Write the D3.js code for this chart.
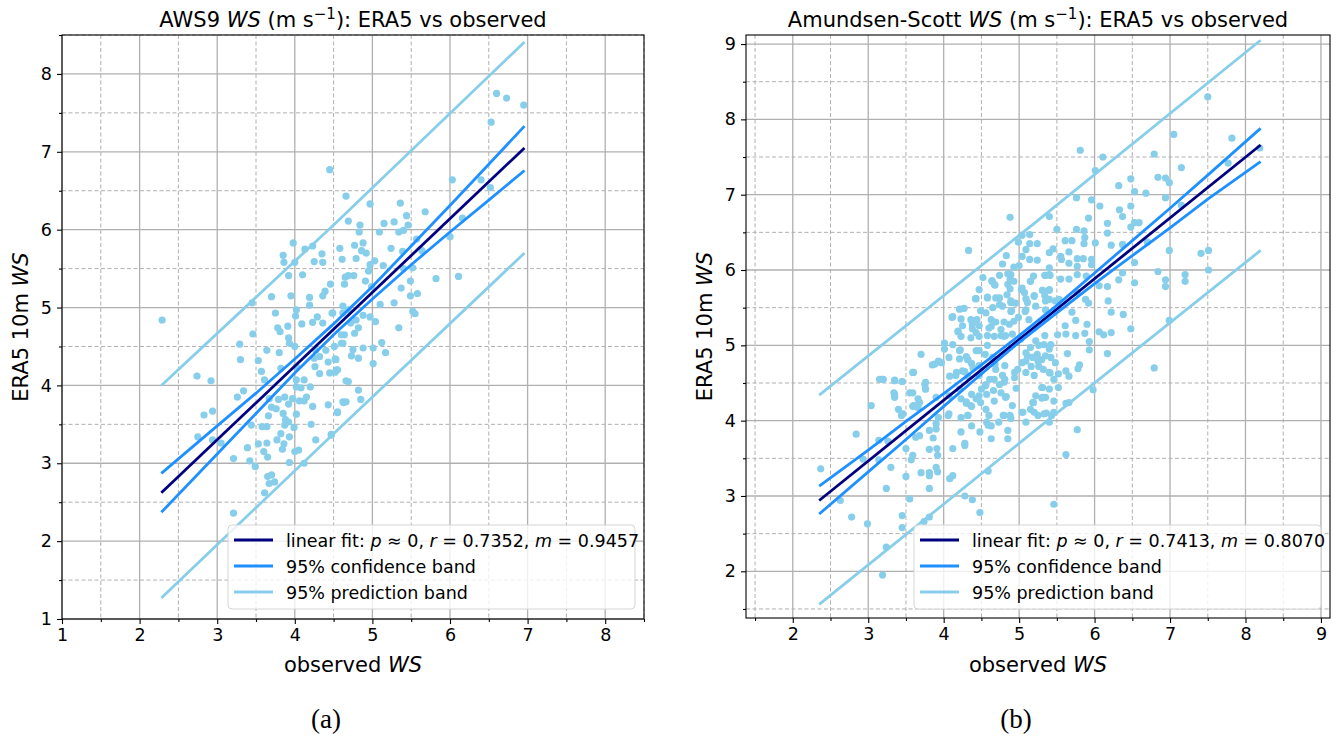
<!DOCTYPE html>
<html>
<head>
<meta charset="utf-8">
<script src="https://cdn.jsdelivr.net/npm/d3@7/dist/d3.min.js"></script>
<style>
body { margin: 0; background: #fff; }
text { font-family: "DejaVu Sans", sans-serif; fill: #000; }
</style>
</head>
<body>
<svg id="chart" width="1338" height="740"></svg>
<script>
/////////////////// AWS9 data //////////////////
var aws9Points = [
[2.29,4.84],[4.45,6.77],[4.66,6.43],[4.69,6.11],[3.98,5.83],[4.13,5.75],[4.23,5.79],[3.85,5.67],[3.86,5.58],[4.00,5.58],
[4.35,5.69],[4.36,5.58],[4.25,5.59],[4.58,5.76],[4.61,5.62],[3.92,5.41],[4.10,5.42],[4.65,5.39],[4.64,5.30],[4.46,5.30],
[4.39,5.21],[4.36,5.15],[3.70,5.14],[3.95,5.15],[4.19,5.13],[4.19,5.03],[3.45,5.06],[3.75,4.93],[4.01,4.89],[4.02,4.97],
[4.29,4.88],[4.09,4.79],[4.23,4.81],[4.36,4.80],[4.48,4.93],[4.62,4.93],[3.78,4.74],[3.81,4.69],[3.91,4.76],[3.92,4.61],
[3.46,4.66],[3.93,4.54],[4.00,4.50],[3.29,4.53],[3.64,4.45],[3.80,4.42],[4.27,4.45],[4.40,4.45],[4.51,4.50],[4.62,4.54],
[3.30,4.33],[3.53,4.32],[4.25,4.35],[4.32,4.37],[4.43,4.30],[4.53,4.33],[3.57,4.18],[3.82,4.22],[4.02,4.24],[4.26,4.24],
[4.32,4.15],[4.45,4.16],[4.55,4.20],[3.61,4.07],[4.02,4.07],[4.12,4.07],[2.74,4.12],[2.92,4.06],[3.34,3.93],[3.26,3.85],
[4.02,3.98],[4.08,3.97],[4.20,3.98],[4.66,4.06],[3.67,3.83],[3.79,3.82],[3.87,3.85],[3.97,3.83],[4.06,3.80],[4.15,3.85],
[4.12,3.80],[3.70,3.72],[3.76,3.70],[3.92,3.76],[4.23,3.73],[4.43,3.75],[4.63,3.78],[2.94,3.67],[2.83,3.62],[3.66,3.61],
[3.85,3.64],[4.02,3.63],[4.55,3.65],[3.88,3.56],[3.92,3.53],[3.44,3.49],[3.58,3.47],[3.64,3.47],[3.87,3.49],[3.99,3.46],
[4.21,3.50],[3.82,3.38],[3.93,3.34],[2.75,3.34],[2.94,3.30],[3.05,3.26],[3.77,3.30],[3.86,3.25],[3.53,3.25],[3.64,3.26],
[4.27,3.30],[4.47,3.37],[3.39,3.20],[3.60,3.15],[3.84,3.18],[4.00,3.15],[4.05,3.17],[3.65,3.08],[3.21,3.06],[3.42,3.03],
[3.49,2.96],[3.93,3.01],[4.12,3.00],[3.65,2.83],[3.70,2.85],[3.74,2.76],[3.67,2.74],[3.61,2.62],[3.21,2.36],
[6.60,7.75],[6.73,7.69],[6.95,7.60],[6.53,7.38],[4.97,6.33],[5.36,6.34],[6.03,6.64],[6.40,6.64],[6.52,6.54],[5.68,6.23],
[5.44,6.18],[4.84,6.06],[4.83,5.97],[5.15,6.08],[5.28,6.10],[5.09,5.97],[5.34,5.97],[5.40,5.99],[5.46,6.06],[6.16,6.15],
[6.00,5.91],[5.57,5.88],[4.77,5.80],[4.88,5.83],[4.86,5.73],[4.92,5.70],[5.24,5.76],[5.39,5.72],[5.64,5.73],[4.79,5.63],
[4.97,5.55],[5.03,5.60],[5.14,5.54],[4.95,5.47],[5.40,5.50],[5.52,5.51],[4.69,5.41],[4.76,5.41],[4.91,5.34],[5.37,5.25],
[5.49,5.34],[5.82,5.37],[6.11,5.40],[5.58,5.18],[5.49,5.15],[4.99,5.27],[5.10,5.04],[5.28,5.06],[5.52,4.95],[5.55,4.92],
[4.49,4.93],[4.62,5.02],[4.69,4.97],[4.72,4.80],[4.79,4.84],[4.88,4.90],[4.97,4.88],[5.04,4.82],[4.82,4.74],[4.77,4.67],
[5.34,4.74],[4.60,4.65],[4.64,4.65],[4.60,4.54],[5.12,4.55],[5.01,4.48],[5.17,4.42],[4.88,4.48],[4.75,4.46],[4.73,4.38],
[4.82,4.35],[4.52,4.34],[5.01,4.28],[4.54,4.20],[4.52,4.17],[4.69,4.05],[4.82,3.94],[4.85,3.82],[4.62,3.79],[4.66,3.79],
[4.55,3.66],[4.47,3.36]
];
var aws9FitX = [2.28, 6.96];
var aws9FitY = [2.62, 7.05];
var aws9BandX = [2.28, 3.0, 3.5, 4.0, 4.5, 5.0, 5.5, 6.0, 6.5, 6.96];
var aws9ConfUp = [2.87, 3.48, 3.90, 4.34, 4.79, 5.27, 5.79, 6.31, 6.84, 7.33];
var aws9ConfLo = [2.37, 3.12, 3.64, 4.16, 4.65, 5.11, 5.55, 5.97, 6.38, 6.76];
var aws9PredX = [2.28, 4.5, 6.96];
var aws9PredUp = [4.00, 6.06, 8.41];
var aws9PredLo = [1.27, 3.38, 5.70];

/////////////////// Amundsen-Scott data //////////////////
var spPoints = [
[2.37,3.36],[3.70,4.88],[4.01,5.03],[3.88,4.75],[3.93,4.79],[3.97,4.77],[4.22,4.94],[4.21,4.82],[4.32,4.81],[4.37,4.76],
[4.12,5.01],[4.17,4.64],[4.28,4.65],[4.39,4.70],[4.47,4.60],[4.08,4.59],[3.60,4.64],[3.15,4.55],[3.20,4.55],[3.35,4.53],
[3.45,4.52],[3.76,4.51],[3.76,4.42],[3.55,4.37],[3.34,4.37],[3.35,4.33],[3.66,4.29],[3.90,4.31],[4.23,4.29],[4.37,4.35],
[4.43,4.29],[4.30,4.23],[4.37,4.19],[3.59,4.19],[3.66,4.17],[3.04,4.20],[3.40,4.15],[3.46,4.09],[3.93,4.04],[4.06,4.07],
[4.23,4.04],[4.32,4.07],[4.37,3.93],[4.23,3.85],[4.48,3.85],[4.59,3.94],[4.63,3.76],[3.90,3.89],[3.81,3.87],[3.68,3.80],
[3.63,3.78],[3.86,3.77],[4.28,3.70],[4.28,3.67],[4.12,3.63],[2.84,3.82],[3.14,3.74],[3.26,3.73],[3.50,3.63],[3.81,3.62],
[3.91,3.63],[3.92,3.54],[3.59,3.54],[3.57,3.48],[2.93,3.49],[3.14,3.48],[3.30,3.38],[3.90,3.38],[3.92,3.32],[3.81,3.31],
[3.70,3.31],[3.81,3.27],[3.50,3.26],[4.08,3.23],[4.12,3.27],[4.59,3.33],[3.24,3.10],[3.81,3.10],[2.63,2.94],[3.55,2.96],
[4.28,3.00],[4.38,2.95],[4.48,2.78],[2.78,2.72],[2.99,2.63],[3.45,2.74],[3.45,2.58],[3.81,2.72],[3.74,2.66],[3.24,2.32],
[3.19,1.95],[4.63,2.37],
[7.50,8.30],[7.82,7.75],[7.05,7.80],[7.77,7.42],[8.19,7.62],[5.81,7.59],[6.11,7.50],[6.79,7.54],[6.01,7.32],[7.15,7.36],
[6.84,7.23],[6.94,7.22],[6.99,7.16],[6.48,7.21],[6.32,7.12],[6.53,7.04],[6.68,7.02],[5.76,6.96],[5.96,6.93],[6.07,6.85],
[6.94,6.96],[7.15,6.86],[6.48,6.85],[6.33,6.80],[6.37,6.71],[5.92,6.69],[5.40,6.71],[4.88,6.70],[6.17,6.62],[6.53,6.63],
[6.59,6.63],[6.48,6.57],[5.50,6.54],[5.76,6.54],[5.86,6.52],[6.17,6.49],[5.04,6.46],[5.14,6.47],[5.61,6.39],[5.70,6.39],
[5.87,6.43],[5.86,6.35],[6.01,6.36],[4.99,6.37],[5.14,6.35],[5.24,6.35],[6.22,6.33],[6.37,6.34],[6.70,6.37],[4.33,6.26],
[5.09,6.27],[5.40,6.23],[5.45,6.28],[5.55,6.18],[5.66,6.24],[5.77,6.15],[5.85,6.15],[5.96,6.14],[5.96,6.07],[4.83,6.19],
[5.04,6.18],[5.14,6.14],[5.24,6.13],[5.56,6.14],[5.66,6.09],[5.77,6.05],[4.78,6.08],[4.93,6.04],[5.00,6.06],[5.40,6.03],
[6.99,6.26],[7.41,6.22],[7.51,6.26],[6.53,6.10],[6.84,5.98],[7.20,5.94],[7.51,6.00],[7.20,5.85],[6.94,5.87],[6.94,5.78],
[6.37,5.96],[6.32,5.87],[6.53,5.83],[6.17,5.78],[6.06,5.79],[4.52,5.90],[4.47,5.74],[4.64,5.86],[4.68,5.80],[4.88,5.88],
[5.15,5.85],[5.34,5.93],[5.40,5.94],[5.55,5.88],[5.66,5.88],[5.77,5.94],[5.89,5.92],[4.88,5.75],[5.03,5.74],[5.31,5.73],
[5.40,5.74],[5.20,5.66],[5.34,5.66],[5.40,5.61],[4.43,5.62],[4.58,5.63],[4.74,5.63],[4.89,5.57],[5.11,5.57],[5.53,5.61],
[5.77,5.70],[5.88,5.61],[5.92,5.56],[6.18,5.59],[6.22,5.44],[6.38,5.41],[6.48,5.22],[6.99,5.33],[4.27,5.49],[4.49,5.46],
[4.65,5.50],[4.78,5.52],[4.90,5.46],[5.09,5.47],[5.35,5.47],[5.70,5.44],[5.75,5.33],[5.90,5.28],[5.75,5.13],[5.87,5.16],
[6.06,5.18],[6.12,5.14],[6.22,5.17],[5.93,5.05],[5.93,4.94],[6.17,4.89],[5.61,5.26],[5.62,5.15],[5.51,5.14],[5.34,5.13],
[4.99,5.37],[4.87,5.28],[4.63,5.25],[4.38,5.28],[4.25,5.26],[4.43,5.17],[4.76,5.13],[4.82,5.13],[5.15,4.97],[5.26,5.00],
[5.40,4.95],[5.11,4.86],[5.64,4.89],[4.47,4.93],[4.30,4.85],[4.58,5.00],
[6.79,4.70],[5.77,3.88],[5.62,3.55],[5.46,2.89],[5.98,4.41],[5.66,4.24],[5.62,4.23],[5.52,4.44],[5.30,4.44],[5.35,4.31],
[5.30,4.30],[5.19,4.24],[5.15,4.15],[5.05,4.11],[5.25,4.07],[5.36,4.10],[5.43,4.07],[4.89,4.03],[4.79,4.07],[4.85,3.87],
[4.85,3.76],[4.63,3.93],[4.57,3.98],[5.66,4.59],[5.62,4.66],[5.80,4.74],[5.78,4.69],[5.52,4.62],[4.94,4.57],[4.96,4.43],
[4.83,4.32],[4.57,4.35],[4.66,4.40],[4.74,4.48],[4.81,4.55],[4.61,4.55],[4.55,4.46],[4.50,4.42],[5.41,4.63],[5.32,4.68],
[5.16,4.72],[5.04,4.77],[4.94,4.64],[4.81,4.73],[4.68,4.75],[5.30,4.81],[5.25,4.79],
[4.12,5.38],[4.23,5.35],[4.19,5.19],
[4.74,5.93],[4.85,5.95],[4.89,5.94],[5.19,5.92],[5.35,5.93],[5.41,5.93],[4.64,5.85],[4.67,5.81],[4.93,5.85],[4.85,5.81],
[5.15,5.85],[5.04,5.76],[5.31,5.73],[5.40,5.73],[4.58,5.64],[4.42,5.62],[4.69,5.63],[4.74,5.54],[4.84,5.67],[4.89,5.59],
[4.95,5.56],[5.07,5.70],[5.09,5.62],[5.20,5.65],[5.35,5.59],[5.48,5.59],[4.89,5.45],[5.08,5.45],[5.22,5.52],[4.21,5.48],
[4.11,5.37],[4.36,5.34],[4.44,5.34],[4.56,5.43],[4.63,5.34],[4.69,5.31],[4.80,5.31],[4.93,5.32],[5.13,5.34],[4.47,5.26],
[4.38,5.22],[4.60,5.23],[4.76,5.21],[4.19,5.18],[4.23,5.12],[4.36,5.10],[4.47,5.12],[4.58,5.13],[4.67,5.12],[4.80,5.12],
[4.91,5.15],[5.02,5.08],[5.22,5.06],[5.33,5.01],[5.42,5.01],[4.01,4.95],[4.07,4.84],[3.94,4.78],[4.21,4.93],[4.32,4.81],
[4.43,4.93],[4.55,4.88],[4.65,4.84],[4.47,4.73],[4.25,4.66],[4.16,4.60],[4.32,4.59],[5.09,4.90],[5.18,4.84],[5.24,4.88],
[5.35,4.86],[5.09,4.79],[5.26,4.72],[5.42,4.84],[5.48,4.77],[4.98,4.68],[5.09,4.64],[5.20,4.60],[5.40,4.64],[5.46,4.55],
[4.69,4.68],[4.78,4.60],[4.80,4.51],[4.67,4.55],[4.56,4.48],[3.59,4.64],[3.85,4.74],[3.18,4.55],[3.35,4.54],[3.45,4.52],
[3.75,4.48],[3.76,4.42],[3.35,4.35],[3.35,4.31],[3.59,4.37],[3.60,4.20],[3.68,4.24],[4.07,4.33],[4.07,4.09],[4.21,4.42],
[4.30,4.25],[4.36,4.20],[4.32,4.07],[4.47,4.33],[4.49,4.24],[4.56,4.15],[4.60,4.07],[4.67,4.26],[4.76,4.37],[4.82,4.31],
[4.91,4.20],[4.80,4.07],[4.73,3.98],[4.88,4.07],[5.04,4.11],[5.18,4.24],[5.22,4.33],[5.31,4.44],[5.31,4.31],[5.40,4.42],
[5.46,4.26],[5.20,4.11],[5.33,4.09],[5.46,4.11],[5.09,3.98],[5.40,3.98],[3.44,4.07],[3.90,3.96],[3.63,4.20]
];
var spFitX = [2.35, 8.2];
var spFitY = [2.94, 7.66];
var spBandX = [2.35, 3.0, 3.5, 4.0, 4.5, 5.0, 5.5, 6.0, 6.5, 7.0, 7.5, 8.2];
var spConfUp = [3.13, 3.61, 3.99, 4.36, 4.74, 5.13, 5.53, 5.96, 6.39, 6.82, 7.26, 7.88];
var spConfLo = [2.76, 3.32, 3.75, 4.19, 4.62, 5.04, 5.43, 5.82, 6.19, 6.56, 6.94, 7.44];
var spPredX = [2.35, 5.2, 8.2];
var spPredUp = [4.34, 6.62, 9.05];
var spPredLo = [1.56, 3.86, 6.26];

var aws9Major = [1, 2, 3, 4, 5, 6, 7, 8];
var aws9Minor = [1.5, 2.5, 3.5, 4.5, 5.5, 6.5, 7.5, 8.5];
var spMajor = [2, 3, 4, 5, 6, 7, 8, 9];
var spMinor = [1.5, 2.5, 3.5, 4.5, 5.5, 6.5, 7.5, 8.5];

var legendLabels = ["linear fit", "95% confidence band", "95% prediction band"];
var legendColors = ["#000080", "#1e90ff", "#87ceeb"];

var svg = d3.select("#chart");

function drawPanel(p) {
    var x = d3.scaleLinear().domain(p.domain).range([p.left, p.left + p.width]),
        y = d3.scaleLinear().domain(p.domain).range([p.top + p.height, p.top]);

    var g = svg.append("g");

    // grid, minor dashed first
    g.selectAll(".minorV").data(p.minor).enter().append("line")
        .attr("x1", function(d) { return x(d); }).attr("x2", function(d) { return x(d); })
        .attr("y1", p.top).attr("y2", p.top + p.height)
        .attr("stroke", "#b0b0b0").attr("stroke-width", 1).attr("stroke-dasharray", "4,2.5");
    g.selectAll(".minorH").data(p.minor).enter().append("line")
        .attr("y1", function(d) { return y(d); }).attr("y2", function(d) { return y(d); })
        .attr("x1", p.left).attr("x2", p.left + p.width)
        .attr("stroke", "#b0b0b0").attr("stroke-width", 1).attr("stroke-dasharray", "4,2.5");
    g.selectAll(".majorV").data(p.major).enter().append("line")
        .attr("x1", function(d) { return x(d); }).attr("x2", function(d) { return x(d); })
        .attr("y1", p.top).attr("y2", p.top + p.height)
        .attr("stroke", "#b0b0b0").attr("stroke-width", 1.3);
    g.selectAll(".majorH").data(p.major).enter().append("line")
        .attr("y1", function(d) { return y(d); }).attr("y2", function(d) { return y(d); })
        .attr("x1", p.left).attr("x2", p.left + p.width)
        .attr("stroke", "#b0b0b0").attr("stroke-width", 1.3);

    // scatter
    g.selectAll(".pt").data(p.points).enter().append("circle")
        .attr("cx", function(d) { return x(d[0]); })
        .attr("cy", function(d) { return y(d[1]); })
        .attr("r", 3.6)
        .attr("fill", "#87ceeb");

    var line = d3.line()
        .x(function(d) { return x(d[0]); })
        .y(function(d) { return y(d[1]); });

    function drawLine(xs, ys, color) {
        g.append("path")
            .datum(xs.map(function(v, i) { return [v, ys[i]]; }))
            .attr("fill", "none")
            .attr("stroke", color)
            .attr("stroke-width", 2.8)
            .attr("d", line);
    }

    drawLine(p.fitX, p.fitY, legendColors[0]);
    drawLine(p.bandX, p.confUp, legendColors[1]);
    drawLine(p.bandX, p.confLo, legendColors[1]);
    drawLine(p.predX, p.predUp, legendColors[2]);
    drawLine(p.predX, p.predLo, legendColors[2]);

    // frame
    g.append("rect")
        .attr("x", p.left).attr("y", p.top)
        .attr("width", p.width).attr("height", p.height)
        .attr("fill", "none").attr("stroke", "#000").attr("stroke-width", 1.1);

    // axes
    g.append("g")
        .attr("transform", "translate(0," + (p.top + p.height) + ")")
        .call(d3.axisBottom(x).tickValues(p.major).tickSize(5).tickPadding(5).tickFormat(d3.format("d")));
    g.append("g")
        .attr("transform", "translate(0," + (p.top + p.height) + ")")
        .call(d3.axisBottom(x).tickValues(p.minor).tickSize(3).tickFormat(""));
    g.append("g")
        .attr("transform", "translate(" + p.left + ",0)")
        .call(d3.axisLeft(y).tickValues(p.major).tickSize(5).tickPadding(5).tickFormat(d3.format("d")));
    g.append("g")
        .attr("transform", "translate(" + p.left + ",0)")
        .call(d3.axisLeft(y).tickValues(p.minor).tickSize(3).tickFormat(""));
    g.selectAll(".domain").remove();
    g.selectAll(".tick line").attr("stroke", "#000").attr("stroke-width", 1.1);
    g.selectAll(".tick text")
        .style("font-family", "DejaVu Sans")
        .style("font-size", "17.5px")
        .attr("fill", "#000");

    // title
    var cx = p.left + p.width / 2;
    var title = g.append("text")
        .attr("x", cx).attr("y", 27)
        .attr("text-anchor", "middle")
        .style("font-size", "21px");
    title.append("tspan").text(p.name + " ");
    title.append("tspan").style("font-style", "italic").text("WS");
    title.append("tspan").text(" (m s");
    title.append("tspan").attr("dy", -8).style("font-size", "15px").text("\u22121");
    title.append("tspan").attr("dy", 8).text("): ERA5 vs observed");

    // axis labels
    var xl = g.append("text")
        .attr("x", cx).attr("y", 672)
        .attr("text-anchor", "middle")
        .style("font-size", "21px");
    xl.append("tspan").text("observed ");
    xl.append("tspan").style("font-style", "italic").text("WS");

    var yl = g.append("text")
        .attr("transform", "translate(" + (p.left - 34) + "," + (p.top + p.height / 2) + ") rotate(-90)")
        .attr("text-anchor", "middle")
        .style("font-size", "21px");
    yl.append("tspan").text("ERA5 10m ");
    yl.append("tspan").style("font-style", "italic").text("WS");

    /////////////////// legend //////////////////
    var lx = p.left + p.width - 9 - 407,
        ly = 525;
    g.append("rect")
        .attr("x", lx).attr("y", ly)
        .attr("width", 407).attr("height", 84)
        .attr("rx", 4)
        .attr("fill", "#fff").attr("fill-opacity", 0.8)
        .attr("stroke", "#d5d5d5").attr("stroke-width", 1);

    legendLabels.forEach(function(lab, i) {
        var yy = ly + 15 + i * 26;
        g.append("line")
            .attr("x1", lx + 6).attr("x2", lx + 45)
            .attr("y1", yy).attr("y2", yy)
            .attr("stroke", legendColors[i]).attr("stroke-width", 2.8);
        var t = g.append("text")
            .attr("x", lx + 58).attr("y", yy + 6.5)
            .style("font-size", "17.5px");
        if (i == 0) {
            t.append("tspan").text("linear fit: ");
            t.append("tspan").style("font-style", "italic").text("p");
            t.append("tspan").text(" \u2248 0, ");
            t.append("tspan").style("font-style", "italic").text("r");
            t.append("tspan").text(" = " + p.r + ", ");
            t.append("tspan").style("font-style", "italic").text("m");
            t.append("tspan").text(" = " + p.m);
        } else {
            t.text(lab);
        }
    });

    // caption
    svg.append("text")
        .attr("x", p.captionX).attr("y", 728)
        .attr("text-anchor", "middle")
        .style("font-family", "Liberation Serif, DejaVu Serif, serif")
        .style("font-size", "27px")
        .text(p.caption);
}

drawPanel({
    name: "AWS9", left: 62, top: 35, width: 582, height: 584,
    domain: [1, 8.5], major: aws9Major, minor: aws9Minor,
    points: aws9Points, fitX: aws9FitX, fitY: aws9FitY,
    bandX: aws9BandX, confUp: aws9ConfUp, confLo: aws9ConfLo,
    predX: aws9PredX, predUp: aws9PredUp, predLo: aws9PredLo,
    r: "0.7352", m: "0.9457", caption: "(a)", captionX: 326
});

drawPanel({
    name: "Amundsen-Scott", left: 746, top: 35, width: 584, height: 583,
    domain: [1.38, 9.12], major: spMajor, minor: spMinor,
    points: spPoints, fitX: spFitX, fitY: spFitY,
    bandX: spBandX, confUp: spConfUp, confLo: spConfLo,
    predX: spPredX, predUp: spPredUp, predLo: spPredLo,
    r: "0.7413", m: "0.8070", caption: "(b)", captionX: 1016
});
</script>
</body>
</html>
